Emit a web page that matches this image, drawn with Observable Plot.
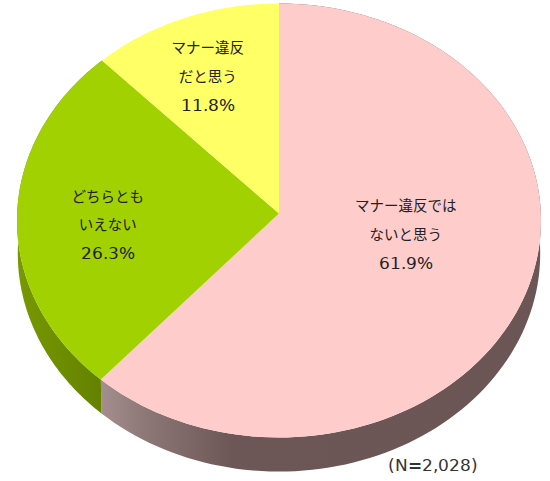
<!DOCTYPE html>
<html><head><meta charset="utf-8">
<script src="https://cdn.jsdelivr.net/npm/d3@7"></script>
<script src="https://cdn.jsdelivr.net/npm/@observablehq/plot@0.6"></script>
<style>
@font-face{font-family:"LatinWide";src:local("DejaVu Sans");size-adjust:115%;unicode-range:U+0020-007E}
html,body{margin:0;padding:0;background:#fff}svg{display:block}
</style>
</head><body><div id="chart"></div>
<script>
const categories = ["マナー違反では\nないと思う", "どちらとも\nいえない", "マナー違反\nだと思う"];
const values = [61.9, 26.3, 11.8];
const colors = ["#FFCCCC", "#A1D100", "#FFFF66"];
const sideFills = ["url(#sidePink)", "url(#sideGreen)", "#999944"];
const note = "(N=2,028)";

const labelRadius = [0.52, 0.654, 0.75];
const labelShift = [0.143, -0.005, -0.018];

// Pie projection: unit circle tilted, with the apex and lower rim offset
const apexY = 0.032, lowY = -0.152, lowRy = 1.005, lowRx = 0.997;
const arcs = d3.pie().sort(null).startAngle(0).endAngle(2 * Math.PI)(values);
const rim = (a) => ({x: Math.sin(a), y: Math.cos(a)});
const low = (a) => ({x: lowRx * Math.sin(a), y: lowY + lowRy * Math.cos(a)});
const steps = (a0, a1) => d3.range(0, 121).map(i => a0 + (a1 - a0) * i / 120);

const faces = arcs.flatMap((d, i) => [
  {x: 0, y: apexY, i},
  ...steps(d.startAngle, d.endAngle).map(a => ({...rim(a), i}))
]);
const sides = arcs.flatMap((d, i) => {
  const angs = steps(d.startAngle, d.endAngle);
  return [...angs.map(a => ({...rim(a), i})), ...angs.slice().reverse().map(a => ({...low(a), i}))];
}).filter(p => p.i < 2);
const labels = arcs.map((d, i) => {
  const m = (d.startAngle + d.endAngle) / 2;
  return {x: labelRadius[i] * Math.sin(m), y: labelRadius[i] * Math.cos(m) + labelShift[i], text: categories[i] + "\n" + values[i].toFixed(1) + "%"};
});

const defs = () => {
  const s = d3.create("svg:defs");
  const grad = (id, x1, x2, stops) => {
    const g = s.append("linearGradient").attr("id", id).attr("gradientUnits", "userSpaceOnUse")
      .attr("x1", x1).attr("x2", x2).attr("y1", 0).attr("y2", 0);
    stops.forEach(([o, c]) => g.append("stop").attr("offset", o).attr("stop-color", c));
  };
  grad("sidePink", 100, 540, [[0, "#A58E8E"], [0.1, "#8E7777"], [0.3, "#6C5656"], [1, "#6B5555"]]);
  grad("sideGreen", 16, 100, [[0, "#789900"], [1, "#648200"]]);
  return s.node();
};

const font = "'LatinWide','Noto Sans CJK JP',sans-serif";
const plot = Plot.plot({
  width: 550, height: 481, margin: 0,
  style: {background: "#fff", fontFamily: font},
  x: {domain: [-1, 1], range: [16.5, 540.5], axis: null},
  y: {domain: [1, -1], range: [3, 437], axis: null},
  marks: [
    defs,
    Plot.line(sides, {x: "x", y: "y", z: "i", fill: d => sideFills[d.i], stroke: "none", curve: "linear-closed"}),
    Plot.line(faces, {x: "x", y: "y", z: "i", fill: d => colors[d.i], stroke: "none", curve: "linear-closed"}),
    Plot.text(labels, {x: "x", y: "y", text: "text", fontSize: 14.5, lineHeight: 1.98, fill: "#222", textAnchor: "middle", lineAnchor: "middle"}),
    Plot.text([note], {frameAnchor: "bottom-right", dx: -73, dy: -11, text: d => d, fontSize: 14.5, fill: "#333", textAnchor: "end"})
  ]
});
document.getElementById("chart").append(plot);
</script></body></html>
